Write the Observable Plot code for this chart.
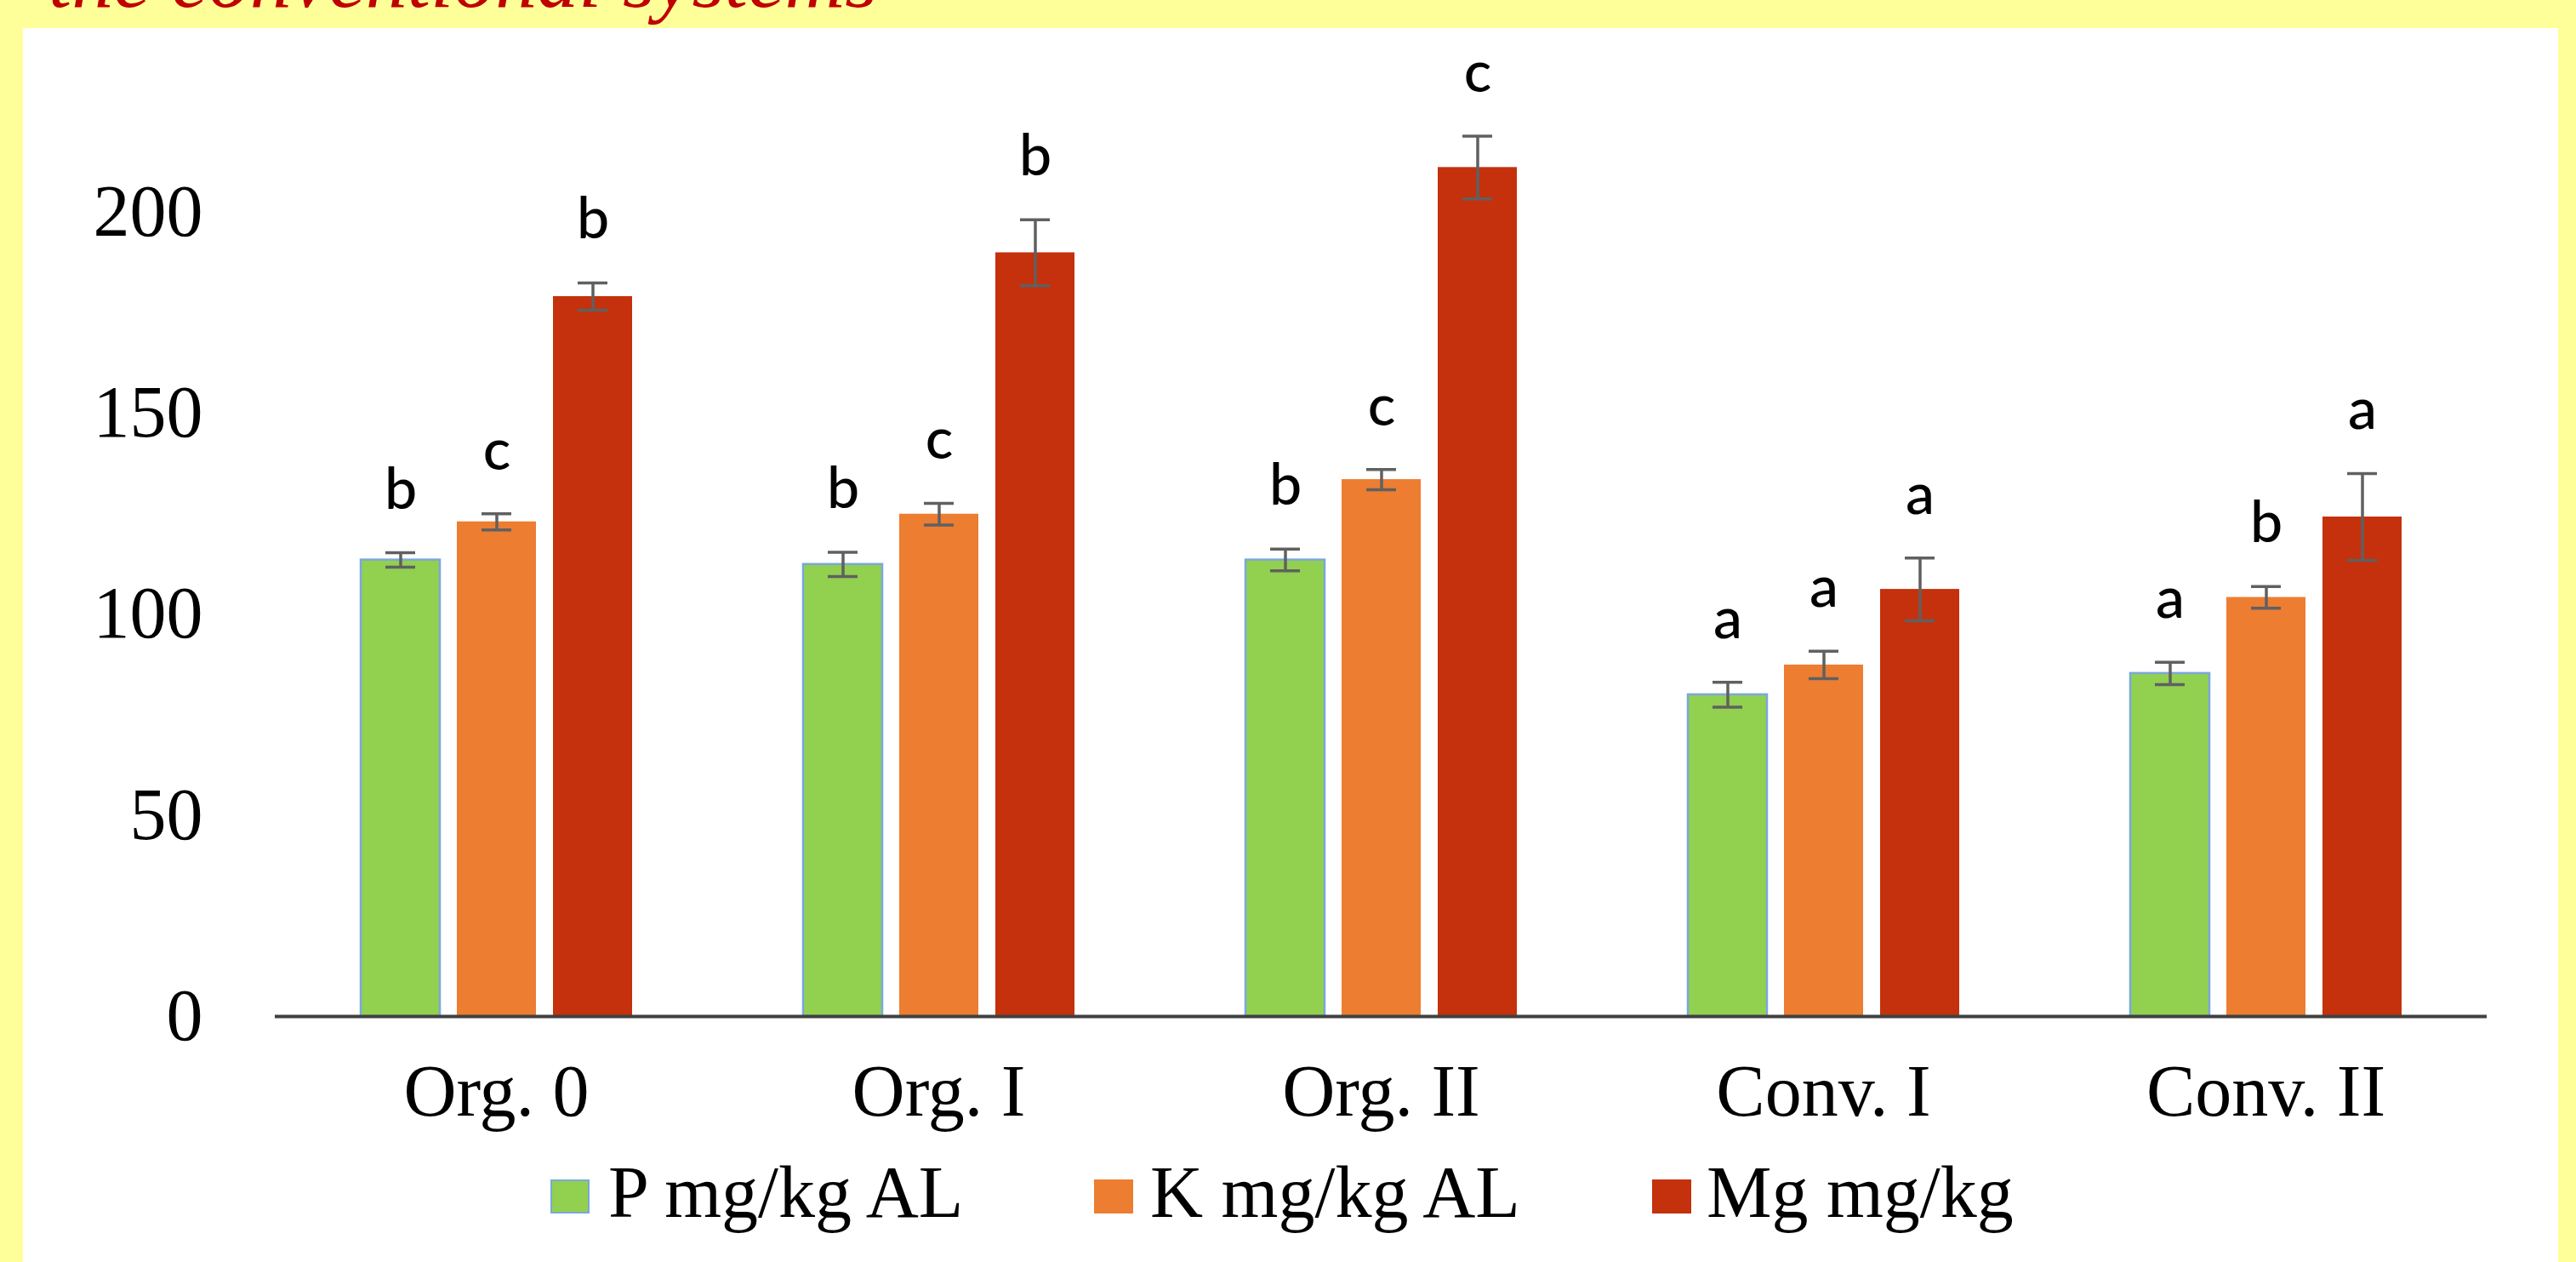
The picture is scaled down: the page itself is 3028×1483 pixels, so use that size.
<!DOCTYPE html>
<html>
<head>
<meta charset="utf-8">
<script src="https://cdn.jsdelivr.net/npm/d3@7"></script>
<script src="https://cdn.jsdelivr.net/npm/@observablehq/plot@0.6"></script>
<style>
  html, body { margin: 0; padding: 0; }
  body { width: 3028px; height: 1483px; background: #FFFF99; position: relative; overflow: hidden; }
  #title { position: absolute; left: 57px; top: -74px; font: italic 98px "Liberation Serif", serif; color: #C00000; line-height: 1; white-space: nowrap; z-index: 0; }
  #panel { position: absolute; left: 27px; top: 33px; width: 2980px; bottom: 0; background: #ffffff; z-index: 1; }
  #chart { position: absolute; left: 0; top: 0; z-index: 2; }
  #legend { position: absolute; left: 0; top: 1340px; width: 3028px; height: 143px; z-index: 2; }
  .sw { position: absolute; top: 46px; width: 46px; height: 40px; box-sizing: border-box; }
  .lt { position: absolute; top: 18px; font: 86px "Liberation Serif", serif; line-height: 1; color: #000; white-space: nowrap; }
</style>
</head>
<body>
<div id="title">the conventional systems</div>
<div id="panel"></div>
<div id="chart"></div>
<div id="legend"></div>
<script>
// ---- data ----
const categories = ["Org. 0", "Org. I", "Org. II", "Conv. I", "Conv. II"];
const seriesNames = ["P mg/kg AL", "K mg/kg AL", "Mg mg/kg"];
const seriesColors = ["#92D050", "#ED7D31", "#C4310C"];
const pValues  = [113.5, 112.4, 113.5, 80.0, 85.3];
const kValues  = [123.0, 124.9, 133.5, 87.4, 104.2];
const mgValues = [179.0, 189.9, 211.1, 106.2, 124.2];
const pErrors  = [1.8, 3.0, 2.7, 3.1, 2.8];
const kErrors  = [2.0, 2.7, 2.5, 3.4, 2.7];
const mgErrors = [3.4, 8.2, 7.8, 7.8, 10.8];
const pLetters  = ["b", "b", "b", "a", "a"];
const kLetters  = ["c", "c", "c", "a", "b"];
const mgLetters = ["b", "b", "c", "a", "a"];
const yTicks = [0, 50, 100, 150, 200];

// ---- table built from the arrays ----
const valueSets = [pValues, kValues, mgValues];
const errorSets = [pErrors, kErrors, mgErrors];
const letterSets = [pLetters, kLetters, mgLetters];
const rows = categories.flatMap((c, i) => seriesNames.map((s, j) => ({
  category: c, series: s, value: valueSets[j][i], err: errorSets[j][i], letter: letterSets[j][i]
})));

const errColor = "#606060";
const chart = Plot.plot({
  width: 3028,
  height: 1340,
  marginLeft: 322,
  marginRight: 105,
  marginTop: 107,
  marginBottom: 146,
  style: { background: "transparent", fontFamily: '"Liberation Serif", serif', fontSize: "86px", color: "#000", overflow: "visible" },
  fx: { domain: categories, padding: 0, label: null },
  x: { domain: seriesNames, paddingInner: 0.18, paddingOuter: 0.88, axis: null },
  y: { domain: [0, 230], label: null },
  color: { domain: seriesNames, range: seriesColors },
  marks: [
    Plot.barY(rows, { fx: "category", x: "series", y: "value", fill: "series" }),
    Plot.barY(rows.filter(d => d.series === seriesNames[0]), { fx: "category", x: "series", y: "value", fill: "none", stroke: "#7AA7DD", strokeWidth: 2.5 }),
    Plot.ruleX(rows, { fx: "category", x: "series", y1: d => d.value - d.err, y2: d => d.value + d.err, stroke: errColor, strokeWidth: 3.5 }),
    Plot.tickY(rows, { fx: "category", x: "series", y: d => d.value + d.err, stroke: errColor, strokeWidth: 3.5, insetLeft: 29, insetRight: 29 }),
    Plot.tickY(rows, { fx: "category", x: "series", y: d => d.value - d.err, stroke: errColor, strokeWidth: 3.5, insetLeft: 29, insetRight: 29 }),
    Plot.ruleY([0], { stroke: "#404040", strokeWidth: 4 }),
    Plot.axisY({ ticks: yTicks, tickSize: 0, tickPadding: 85, label: null, line: true, stroke: "#404040", strokeWidth: 4, fill: "#000", fontSize: 86 }),
    Plot.axisFx({ anchor: "bottom", tickSize: 0, tickPadding: 55, label: null, fontSize: 86, fill: "#000" }),
    Plot.text(rows, { fx: "category", x: "series", y: d => d.value + d.err, text: "letter", dy: -52, lineAnchor: "bottom", fontFamily: "Lato, sans-serif", fontWeight: 500, fontSize: 68, fill: "#000" })
  ]
});
document.getElementById("chart").appendChild(chart);

// ---- legend ----
const legend = document.getElementById("legend");
const swatchLeft = [647, 1286, 1942];
const textLeft = [715, 1352, 2006];
seriesNames.forEach((name, j) => {
  const sw = document.createElement("div");
  sw.className = "sw";
  sw.style.left = swatchLeft[j] + "px";
  sw.style.background = seriesColors[j];
  if (j === 0) sw.style.border = "2px solid #7AA7DD";
  legend.appendChild(sw);
  const t = document.createElement("div");
  t.className = "lt";
  t.style.left = textLeft[j] + "px";
  t.textContent = name;
  legend.appendChild(t);
});
</script>
</body>
</html>
